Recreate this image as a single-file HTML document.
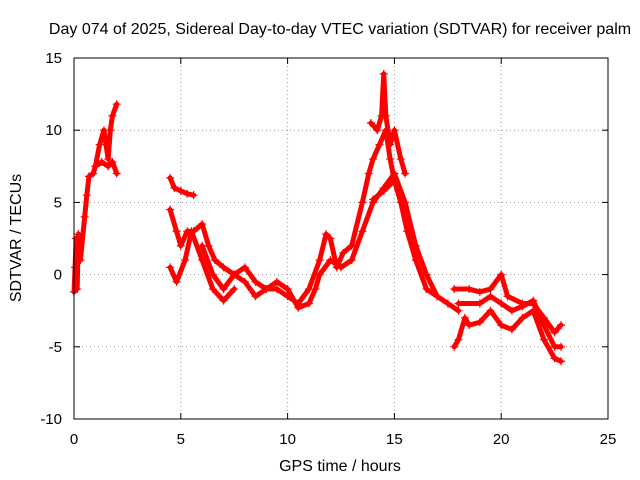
<!DOCTYPE html>
<html><head><meta charset="utf-8"><style>
body{margin:0;background:#fff}
svg{display:block;font-family:"Liberation Sans",sans-serif}
</style></head><body>
<svg id="chart" width="640" height="480" viewBox="0 0 640 480">
<rect width="640" height="480" fill="#fff"/>
<text x="340" y="34" text-anchor="middle" font-size="16">Day 074 of 2025, Sidereal Day-to-day VTEC variation (SDTVAR) for receiver palm</text>
<text x="340" y="471" text-anchor="middle" font-size="16">GPS time / hours</text>
<text transform="translate(21,238) rotate(-90)" text-anchor="middle" font-size="16">SDTVAR / TECUs</text>
<g id="grid"></g><g id="ticks"></g><g id="marks"></g>
<rect x="74" y="58" width="534" height="361" fill="none" stroke="#000" stroke-width="1"/>
</svg>
<script>
const xTicks=[0,5,10,15,20,25];
const yTicks=[-10,-5,0,5,10,15];
const trackA=[[0,-1.2],[0.05,0.5],[0.1,2.5],[0.15,-1],[0.2,2.8],[0.3,1],[0.5,4],[0.6,5.5],[0.7,6.8],[0.9,7],[1.0,7.5],[1.2,9],[1.4,10],[1.5,9],[1.6,8],[1.7,10],[1.8,11],[2.0,11.8]];
const trackA2=[[1.0,7.5],[1.3,7.8],[1.6,7.5],[1.8,7.8],[2.0,7]];
const trackB=[[4.5,6.7],[4.7,6],[5.0,5.8],[5.3,5.6],[5.6,5.5]];
const trackC=[[4.5,4.5],[4.8,3],[5.0,2],[5.3,3],[5.6,3],[6.0,3.5],[6.3,2],[6.6,1],[7.0,0.5],[7.5,0],[8,0.5],[8.5,-0.5],[9,-1],[9.5,-1],[10,-1.5],[10.5,-2],[11,-1],[11.5,1],[11.8,2.8],[12,2.5],[12.3,0.5],[12.6,1.5],[13,2],[13.5,5],[13.8,7],[14,8],[14.3,9],[14.6,10],[14.8,8],[15,6.5],[15.3,5],[15.6,3],[16,1],[16.5,-1],[17,-1.5],[17.5,-2],[18,-2.5]];
const trackD=[[4.5,0.5],[4.8,-0.5],[5.2,1],[5.5,3],[6,1],[6.5,-1],[7,-1.8],[7.5,-1]];
const trackE=[[6,2],[6.5,0],[7,-1],[7.5,0],[8,-0.5],[8.5,-1.5],[9,-1],[9.5,-0.5],[10,-1],[10.5,-2.3],[11,-2],[11.3,-1],[11.5,0],[12,1],[12.5,0.5],[13,1],[13.5,3],[14,5],[14.5,6],[15,7],[15.5,5],[16,2],[16.5,0],[17,-1.5]];
const trackSpike=[[13.9,10.5],[14.2,10],[14.4,11],[14.5,13.9],[14.6,11],[14.8,9],[15,10],[15.3,8],[15.5,7]];
const trackF=[[14,5.2],[14.5,5.8],[15,6.5]];
const trackG=[[17.8,-5],[18,-4.5],[18.3,-3],[18.5,-3.5],[19,-3.3],[19.5,-2.5],[20,-3.5],[20.5,-3.8],[21,-3],[21.5,-2.5],[22,-4.5],[22.5,-5.8],[22.8,-6]];
const trackH=[[17.8,-1],[18.5,-1],[19,-1.2],[19.5,-1],[20,0],[20.3,-1.5],[21,-2],[21.5,-2],[22,-3],[22.5,-4],[22.8,-3.5]];
const trackI=[[18,-2],[19,-2],[19.5,-1.5],[20,-2],[20.5,-2.5],[21,-2.2],[21.5,-1.8],[22,-3.5],[22.5,-5],[22.8,-5]];
const tracks=[trackA,trackA2,trackB,trackC,trackD,trackE,trackSpike,trackF,trackG,trackH,trackI];
const X=v=>74+v*534/25;
const Y=v=>419-(v+10)*361/25;
const NS="http://www.w3.org/2000/svg";
function mk(tag,attrs,parent){const e=document.createElementNS(NS,tag);for(const k in attrs)e.setAttribute(k,attrs[k]);parent.appendChild(e);return e;}
const grid=document.getElementById('grid'),ticks=document.getElementById('ticks'),marks=document.getElementById('marks');
xTicks.forEach(t=>{
 if(t>0&&t<25){const g=mk('line',{x1:X(t),x2:X(t),y1:58,y2:419,stroke:'#999','stroke-dasharray':'1,3'},grid);
 
 }
 mk('line',{x1:X(t),x2:X(t),y1:419,y2:413,stroke:'#000'},ticks);
 mk('line',{x1:X(t),x2:X(t),y1:58,y2:64,stroke:'#000'},ticks);
 const l=mk('text',{x:X(t),y:444,'text-anchor':'middle','font-size':15},ticks);l.textContent=t;
 
 
});
yTicks.forEach(t=>{
 if(t>-10&&t<15){const g=mk('line',{x1:74,x2:608,y1:Y(t),y2:Y(t),stroke:'#999','stroke-dasharray':'1,3'},grid);
 
 }
 mk('line',{x1:74,x2:80,y1:Y(t),y2:Y(t),stroke:'#000'},ticks);
 mk('line',{x1:608,x2:602,y1:Y(t),y2:Y(t),stroke:'#000'},ticks);
 const l=mk('text',{x:62,y:Y(t)+5,'text-anchor':'end','font-size':15},ticks);l.textContent=t;
 
 
});
tracks.forEach(tr=>{
 const p=mk('polyline',{points:tr.map(d=>X(d[0])+','+Y(d[1])).join(' '),fill:'none',stroke:'#f00','stroke-width':5,'stroke-linejoin':'round','stroke-linecap':'round'},marks);
 
 
 tr.forEach(d=>{
  const x=X(d[0]),y=Y(d[1]);
  const m=mk('path',{d:`M${x-4},${y}H${x+4}M${x},${y-4}V${y+4}`,stroke:'#f00','stroke-width':1.2},marks);
  
  
 });
});
</script>
</body></html>
